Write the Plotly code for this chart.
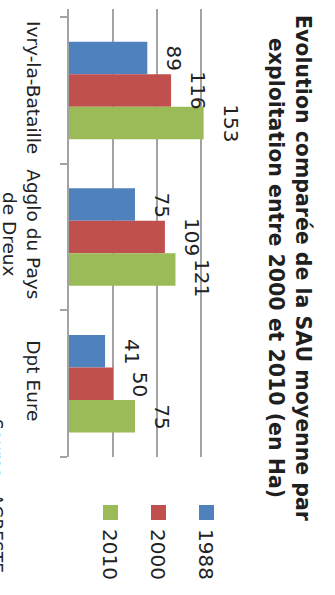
import plotly.graph_objects as go

# Data
categories = ["Ivry-la-Bataille", "Agglo du Pays de Dreux", "Dpt Eure"]
tick_labels = ["Ivry-la-Bataille", "Agglo du Pays<br>de Dreux", "Dpt Eure"]
series_names = ["1988", "2000", "2010"]
sau_1988 = [89, 75, 41]
sau_2000 = [116, 109, 50]
sau_2010 = [153, 121, 75]
series_values = [sau_1988, sau_2000, sau_2010]
series_colors = ["#4F81BD", "#C0504D", "#9BBB59"]

title_text = "Evolution comparée de la SAU moyenne par<br>exploitation entre 2000 et 2010 (en Ha)"
source_text = "Source : AGRESTE"

# Layout geometry (pixels)
W, H = 335, 595
M_L, M_R, M_T, M_B = 69, 90, 9, 138
PLOT_W = W - M_L - M_R
PLOT_H = H - M_T - M_B
GRID = "#A3A3A3"
TXT = "#222222"
FONT = "DejaVu Sans"

# small nudges (px, along the category direction) to keep labels from colliding
label_nudge = {("Agglo du Pays de Dreux", "2010"): -9}


def px_x(p):
    return (p - M_L) / PLOT_W


def px_y(p):
    return (H - M_B - p) / PLOT_H


fig = go.Figure()
for name, vals, col in zip(series_names, series_values, series_colors):
    fig.add_trace(go.Bar(
        name=name, y=categories, x=vals, orientation="h",
        marker=dict(color=col, line=dict(width=0)),
        showlegend=False,
    ))

# Value labels, rotated, beyond the end of each bar
bar_px = 32.5
for i, (name, vals) in enumerate(zip(series_names, series_values)):
    shift = (1 - i) * bar_px
    for cat, v in zip(categories, vals):
        fig.add_annotation(
            x=v, y=cat, xref="x", yref="y", text=str(v), showarrow=False,
            textangle=90, xanchor="left", yanchor="middle",
            xshift=13, yshift=shift + label_nudge.get((cat, name), 0),
            font=dict(family=FONT, size=20, color=TXT),
        )

# Legend drawn as rotated entries
legend_x = [206.5, 158.5, 110.5]
for name, col, lx in zip(series_names, series_colors, legend_x):
    fig.add_shape(
        type="rect", xref="paper", yref="paper",
        x0=px_x(lx - 7.5), x1=px_x(lx + 7.5),
        y0=px_y(520), y1=px_y(505),
        fillcolor=col, line=dict(width=0),
    )
    fig.add_annotation(
        x=px_x(lx), y=px_y(527), xref="paper", yref="paper",
        text=name, showarrow=False, textangle=90,
        xanchor="center", yanchor="top",
        font=dict(family=FONT, size=20, color=TXT),
    )

# Title
fig.add_annotation(
    x=px_x(290), y=px_y(268), xref="paper", yref="paper",
    text=title_text, showarrow=False, textangle=90, align="center",
    xanchor="center", yanchor="middle",
    font=dict(family=FONT, size=20.5, color="#1f1f1f", weight="bold"),
)

# Source (runs off the left edge of the page)
fig.add_annotation(
    x=px_x(8), y=px_y(417), xref="paper", yref="paper",
    text=source_text, showarrow=False, textangle=90,
    xanchor="right", yanchor="top",
    font=dict(family=FONT, size=17, color=TXT),
)

fig.update_xaxes(
    range=[0, 200], dtick=50, tick0=0, showticklabels=False,
    showgrid=True, gridcolor=GRID, gridwidth=1.5,
    zeroline=False, showline=False, ticks="", automargin=False,
)
fig.update_yaxes(
    type="category", categoryorder="array", categoryarray=categories,
    tickmode="array", tickvals=categories, ticktext=tick_labels,
    range=[2.5, -0.555], tickson="boundaries", ticks="outside",
    ticklen=7, tickwidth=1.5, tickcolor=GRID, tickangle=90,
    ticklabelstandoff=18, automargin=False,
    showline=True, linecolor=GRID, linewidth=1.5, showgrid=False,
    tickfont=dict(family=FONT, size=18.5, color=TXT),
)

fig.update_layout(
    width=W, height=H, barmode="group", bargap=0.335, bargroupgap=0,
    margin=dict(l=M_L, r=M_R, t=M_T, b=M_B, pad=0),
    paper_bgcolor="white", plot_bgcolor="white",
    showlegend=False,
)

fig.write_html("out.html", config={"displayModeBar": False})
